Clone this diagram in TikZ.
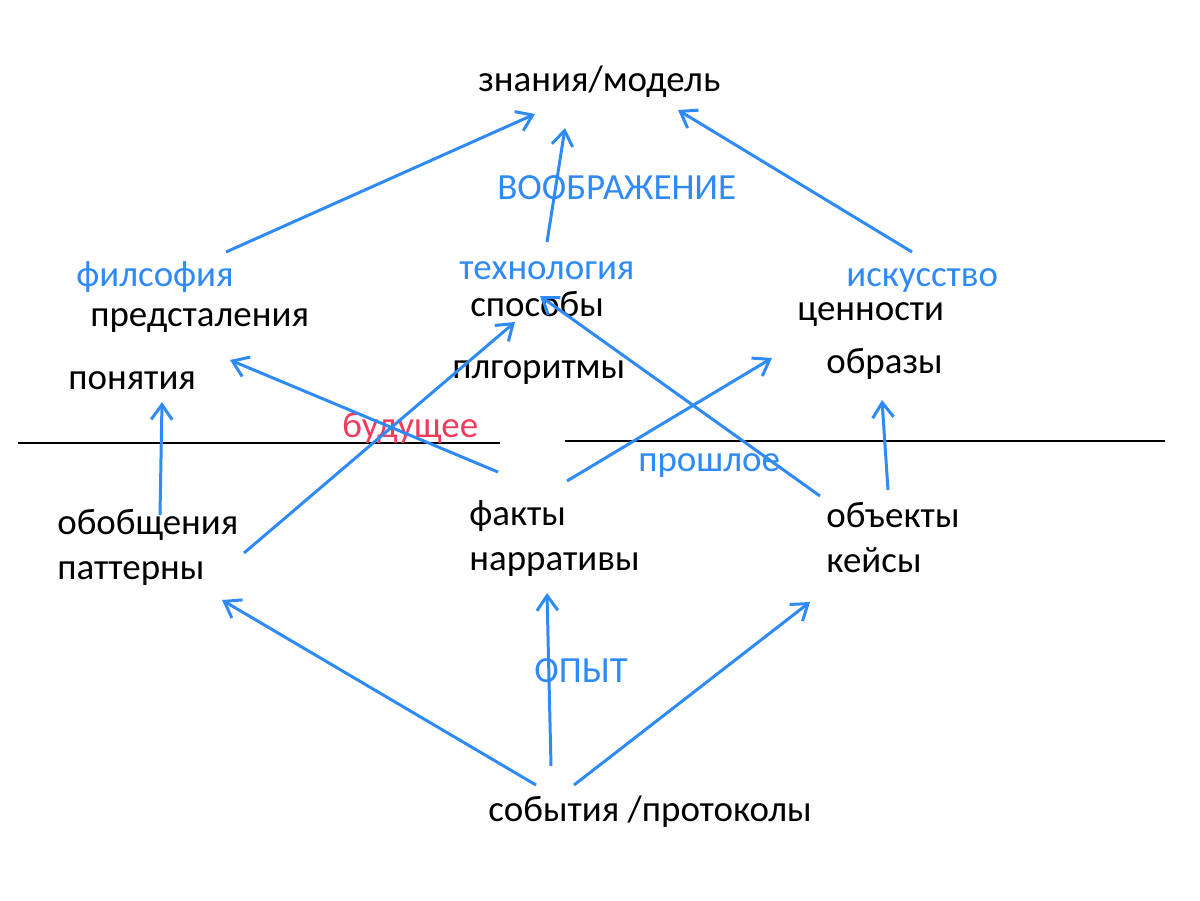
\documentclass[tikz,border=0pt]{standalone}
\usepackage{fontspec}
\setmainfont{Carlito}
\usetikzlibrary{arrows.meta}
\definecolor{lineblue}{HTML}{2E8AF6}
\definecolor{futred}{HTML}{F23A5C}

\begin{document}
\begin{tikzpicture}[x=0.02cm,y=-0.02cm,
  word/.style={anchor=mid west,inner sep=0pt,font=\fontsize{21}{25}\selectfont},
  blueword/.style={word,text=lineblue},
  arr/.style={draw=lineblue,line width=1.7pt,-{Straight Barb[length=0.3cm,width=0.42cm,line width=1.7pt]}}]
 \useasboundingbox (0,0) rectangle (1200,900);
 % dividing line
 \draw [line width=1.4pt](18,443)--(500,443);
 \draw [line width=1.4pt](565,441)--(1165,441);
 % words
 \node[word] (znaniya) at (478,87) {знания/модель};
 \node[blueword] (voobr) at (497,195) {ВООБРАЖЕНИЕ};
 \node[blueword] (filos) at (76,282) {филсофия};
 \node[blueword] (tehno) at (459,275) {технология};
 \node[blueword] (iskus) at (846,282) {искусство};
 \node[word] (predst) at (90,322) {предсталения};
 \node[word] (sposob) at (470,312) {способы};
 \node[word] (cennost) at (797,316) {ценности};
 \node[word] (ponyat) at (68,385) {понятия};
 \node[word] (algor) at (452,374) {плгоритмы};
 \node[word] (obrazy) at (826,369) {образы};
 \node[word,text=futred] (budush) at (342,433) {будущее};
 \node[blueword] (proshl) at (638,467) {прошлое};
 \node[word] (fakty) at (469,521) {факты};
 \node[word] (obobsh) at (57,530) {обобщения};
 \node[word] (obekty) at (826,523) {объекты};
 \node[word] (narrat) at (469,566) {нарративы};
 \node[word] (pattern) at (57,575) {паттерны};
 \node[word] (keisy) at (826,568) {кейсы};
 \node[blueword] (opyt) at (534,678) {ОПЫТ};
 \node[word] (sobyt) at (488,817) {события /протоколы};
 % arrow ends
 \coordinate (f1) at (226,252); \coordinate (z1) at (535,114);
 \coordinate (t1) at (547,242); \coordinate (z2) at (565,128);
 \coordinate (i1) at (912,252); \coordinate (z3) at (678,110);
 \coordinate (ob1) at (160,515); \coordinate (po1) at (162,402);
 \coordinate (fa1) at (498,472); \coordinate (pr1) at (230,360);
 \coordinate (pa1) at (244,553); \coordinate (sp1) at (515,322);
 \coordinate (fa2) at (567,481); \coordinate (or1) at (772,358);
 \coordinate (oe1) at (820,496); \coordinate (sp2) at (540,296);
 \coordinate (oe2) at (888,490); \coordinate (or2) at (882,400);
 \coordinate (so1) at (536,785); \coordinate (pa2) at (222,600);
 \coordinate (so2) at (551,766); \coordinate (na1) at (547,593);
 \coordinate (so3) at (574,785); \coordinate (ke1) at (810,602);
 % arrows
 \draw[arr] (f1)--(z1);
 \draw[arr] (t1)--(z2);
 \draw[arr] (i1)--(z3);
 \draw[arr] (ob1)--(po1);
 \draw[arr] (fa1)--(pr1);
 \draw[arr] (pa1)--(sp1);
 \draw[arr] (fa2)--(or1);
 \draw[arr] (oe1)--(sp2);
 \draw[arr] (oe2)--(or2);
 \draw[arr] (so1)--(pa2);
 \draw[arr] (so2)--(na1);
 \draw[arr] (so3)--(ke1);
\end{tikzpicture}
\end{document}
